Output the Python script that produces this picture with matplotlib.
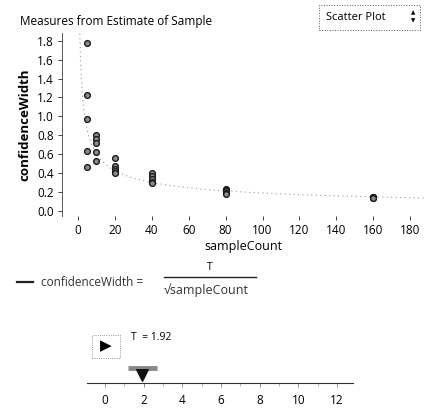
import numpy as np
import matplotlib
matplotlib.use("Agg")
import matplotlib.pyplot as plt
from matplotlib.lines import Line2D
from matplotlib.patches import Rectangle

plt.rcParams['font.family'] = ['Open Sans', 'DejaVu Sans']

# estimate samples, five per sample count
sample_count = [5] * 5 + [10] * 5 + [20] * 5 + [40] * 5 + [80] * 5 + [160] * 5
confidence_width = [1.77, 1.23, 0.97, 0.64, 0.47,
                    0.80, 0.76, 0.72, 0.62, 0.53,
                    0.56, 0.48, 0.45, 0.42, 0.40,
                    0.40, 0.37, 0.34, 0.31, 0.30,
                    0.23, 0.22, 0.21, 0.19, 0.18,
                    0.15, 0.15, 0.14, 0.15, 0.14]
T = 1.92
x_ticks = [0, 20, 40, 60, 80, 100, 120, 140, 160, 180]
y_ticks = [0.0, 0.2, 0.4, 0.6, 0.8, 1.0, 1.2, 1.4, 1.6, 1.8]
slider_ticks = [0, 2, 4, 6, 8, 10, 12]

W, H = 425, 411
fig = plt.figure(figsize=(W / 100, H / 100), dpi=100)

def fx(px): return px / W
def fy(py): return 1 - py / H

# main scatter axes
ax = fig.add_axes([fx(62), fy(216), fx(425) - fx(62), fy(33) - fy(216)])
xs = np.linspace(1.0, 188, 400)
ax.plot(xs, T / np.sqrt(xs), color='#9a9a9a', lw=0.8, ls=(0, (1, 3)), zorder=1)
ax.scatter(sample_count, confidence_width, s=17, facecolor='#8c8c8c',
           edgecolor='#1a1a1a', linewidth=1.0, zorder=3)
ax.set_xlim(-8.6, 188)
ax.set_ylim(-0.05, 1.88)
ax.set_xticks(x_ticks)
ax.set_yticks(y_ticks)
ax.set_yticklabels([f"{v:.1f}" for v in y_ticks])
for s in ['top', 'right', 'bottom']:
    ax.spines[s].set_visible(False)
ax.spines['left'].set_color('#555555')
ax.spines['left'].set_linewidth(0.7)
ax.tick_params(axis='both', labelsize=8.5, length=3, width=0.7, color='#444444', pad=3)
ax.tick_params(axis='x', pad=3)
ax.set_xlabel('sampleCount', fontsize=9, labelpad=2)
ax.set_ylabel('confidenceWidth', fontsize=9.5, fontweight='bold', labelpad=4)

fig.text(fx(20), fy(22), 'Measures from Estimate of Sample', fontsize=8.5,
         ha='left', va='center')

# plot type button
fig.patches.append(Rectangle((fx(319), fy(30)), fx(101), fy(5) - fy(30),
                             transform=fig.transFigure, fill=False,
                             ec='#555555', lw=0.7, ls=':'))
fig.text(fx(326), fy(17), 'Scatter Plot', fontsize=8, ha='left', va='center')
fig.text(fx(413), fy(13), '\u25b2', fontsize=4, ha='center', va='center')
fig.text(fx(413), fy(21), '\u25bc', fontsize=4, ha='center', va='center')

# function legend
fig.lines.append(Line2D([fx(17), fx(33)], [fy(282), fy(282)],
                        transform=fig.transFigure, color='#222222', lw=1.6))
fig.text(fx(41), fy(282), 'confidenceWidth =', fontsize=8.5, ha='left', va='center',
         color='#333333')
fig.lines.append(Line2D([fx(164), fx(256)], [fy(277), fy(277)],
                        transform=fig.transFigure, color='#222222', lw=1.0))
fig.text(fx(210), fy(268), 'T', fontsize=7.5, ha='center', va='center')
fig.text(fx(164), fy(290), '\u221asampleCount', fontsize=9, ha='left', va='center',
         color='#333333')

# slider
sax = fig.add_axes([fx(87), fy(384), fx(353) - fx(87), fy(364) - fy(384)])
sax.set_xlim(-0.93, 12.83)
sax.set_ylim(0, 1)
for s in ['top', 'right', 'left']:
    sax.spines[s].set_visible(False)
sax.spines['bottom'].set_position(('data', 0.05))
sax.spines['bottom'].set_color('#333333')
sax.spines['bottom'].set_linewidth(0.8)
sax.set_yticks([])
sax.set_xticks(slider_ticks)
sax.set_xticks(range(0, 13), minor=True)
sax.tick_params(axis='x', labelsize=8.5, length=3, width=0.6, color='#777777', pad=5)
sax.tick_params(axis='x', which='minor', length=2, width=0.5, color='#999999')
sax.plot([1.2, 2.7], [0.78, 0.78], color='#888888', lw=3.5, solid_capstyle='butt')
sax.scatter([T], [0.45], marker='v', s=70, color='#111111', zorder=3)

# play button and value
fig.patches.append(Rectangle((fx(92), fy(358)), fx(28), fy(335) - fy(358),
                             transform=fig.transFigure, fill=False,
                             ec='#777777', lw=0.6, ls=':'))
fig.text(fx(106), fy(347), '\u25b6', fontsize=11, ha='center', va='center')
fig.text(fx(131), fy(337), f'T  = {T:.2f}', fontsize=7.5, ha='left', va='center')

fig.savefig('out.png', dpi=100)
